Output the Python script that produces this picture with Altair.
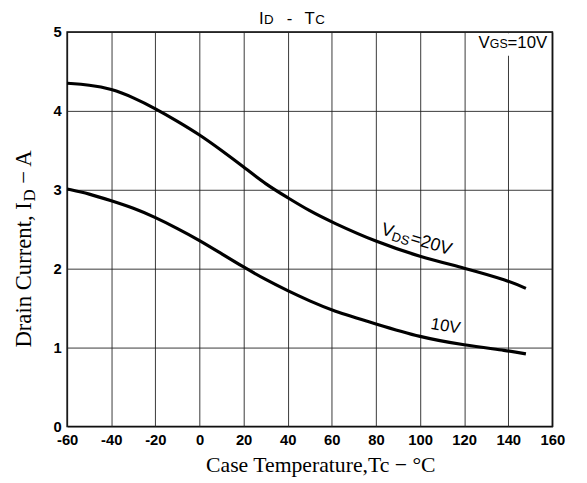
import altair as alt
import pandas as pd

# ---- data ----
tc_20v = [-60, -50, -40, -30, -20, -10, 0, 10, 20, 30, 40, 50, 60, 80, 100, 120, 140, 148]
id_20v = [4.35, 4.33, 4.28, 4.17, 4.03, 3.87, 3.70, 3.50, 3.29, 3.07, 2.90, 2.73, 2.59, 2.34, 2.15, 2.01, 1.85, 1.75]

tc_10v = [-60, -50, -40, -30, -20, -10, 0, 10, 20, 30, 40, 50, 60, 80, 100, 120, 140, 148]
id_10v = [3.01, 2.95, 2.86, 2.77, 2.65, 2.51, 2.36, 2.19, 2.02, 1.86, 1.72, 1.59, 1.47, 1.30, 1.13, 1.03, 0.96, 0.92]

x_ticks = [-60, -40, -20, 0, 20, 40, 60, 80, 100, 120, 140, 160]
y_ticks = [0, 1, 2, 3, 4, 5]

rows = []
for t, v in zip(tc_20v, id_20v):
    rows.append({"tc": t, "id": v, "vds": "20V"})
for t, v in zip(tc_10v, id_10v):
    rows.append({"tc": t, "id": v, "vds": "10V"})
df = pd.DataFrame(rows)

xs = alt.Scale(domain=[-60, 160], nice=False, zero=False)
ys = alt.Scale(domain=[0, 5], nice=False, zero=False)

xax = alt.Axis(values=x_ticks, labelExpr="'' + datum.value", grid=True, gridColor="#222",
               gridWidth=0.9, ticks=False, domain=False, labelFont="Liberation Sans",
               labelFontWeight="bold", labelFontSize=15, labelColor="black", labelPadding=6,
               title=None, labelFlush=False)
yax = alt.Axis(values=y_ticks, format="d", grid=True, gridColor="#222", gridWidth=0.9, ticks=False,
               domain=False, labelFont="Liberation Sans", labelFontWeight="bold",
               labelFontSize=15, labelColor="black", labelPadding=6, title=None)

base = alt.Chart(df)
lines = base.mark_line(color="black", strokeWidth=3.2, interpolate="basis").encode(
    x=alt.X("tc:Q", scale=xs, axis=xax),
    y=alt.Y("id:Q", scale=ys, axis=yax),
    detail="vds:N",
)

# white patch behind the VGS label
patch_df = pd.DataFrame([{"x1": 124, "x2": 159.3, "y1": 4.70, "y2": 4.985}])
patch = alt.Chart(patch_df).mark_rect(color="white").encode(
    x=alt.X("x1:Q", scale=xs), x2="x2:Q", y=alt.Y("y1:Q", scale=ys), y2="y2:Q")

def txt(s, x, y, size, dx=0, dy=0, angle=0, font="Liberation Sans", weight="normal", align="left"):
    d = pd.DataFrame([{"x": x, "y": y, "t": s}])
    kw = dict(fontSize=size, font=font, fontWeight=weight, align=align, baseline="alphabetic",
              dx=dx, dy=dy, color="black")
    if angle:
        kw["angle"] = angle
    return alt.Chart(d).mark_text(**kw).encode(
        x=alt.X("x:Q", scale=xs), y=alt.Y("y:Q", scale=ys), text="t:N")

labels = [
    # VGS = 10V
    txt("V", 126.5, 4.80, 17),
    txt("GS", 126.5, 4.80, 12.5, dx=11.5),
    txt("=10V", 126.5, 4.80, 17, dx=29.5),
    # VDS = 20V
    txt("V", 82, 2.44, 18, angle=17),
    txt("DS", 82, 2.44, 13, dx=12, dy=3, angle=17),
    txt("=20V", 82, 2.44, 18, dx=31, angle=17),
    # 10V
    txt("10V", 104.5, 1.24, 17, angle=10),
    # chart title  I_D - T_C
    txt("I", 27, 5.095, 17),
    txt("D", 27, 5.095, 13.5, dx=5),
    txt("-", 27, 5.095, 17, dx=28),
    txt("T", 27, 5.095, 17, dx=46),
    txt("C", 27, 5.095, 13.5, dx=57),
    # x title
    txt("Case Temperature,Tc \u2212 \u00b0C", 55, -0.575, 22, font="Liberation Serif", align="center"),
    # y title
    txt("Drain Current, I", -76.3, 1.0, 23, font="Liberation Serif", angle=270),
    txt("D", -76.3, 1.0, 17, dx=148, dy=4, font="Liberation Serif", angle=270),
    txt("\u2212 A", -76.3, 1.0, 23, dx=166, font="Liberation Serif", angle=270),
]

chart = alt.layer(patch, lines, *labels).properties(
    width=492, height=400,
    padding={"left": 60, "top": 21, "right": 27, "bottom": 54},
    autosize=alt.AutoSizeParams(type="none"),
).configure_view(stroke="black", strokeWidth=1.6).configure_axis(
    gridOpacity=1
)

chart.save("out.html", embed_options={"renderer": "svg", "actions": False})
